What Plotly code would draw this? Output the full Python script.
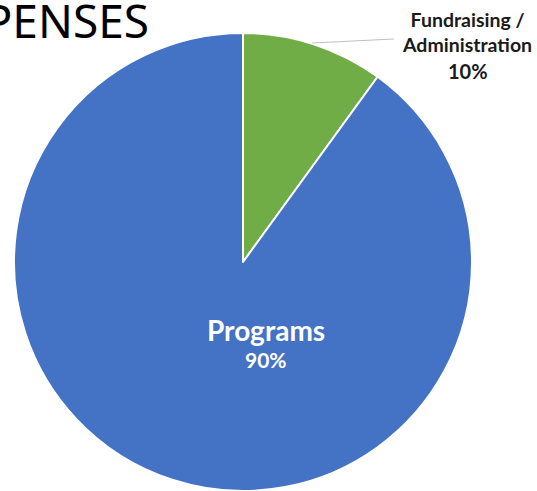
import plotly.graph_objects as go

labels = ["Fundraising /<br>Administration", "Programs"]
values = [10, 90]
colors = ["#70AD47", "#4472C4"]
title_text = "EXPENSES"

W, H = 537, 491

fig = go.Figure(go.Pie(
    labels=labels,
    values=values,
    sort=False,
    direction="clockwise",
    rotation=0,
    textinfo="none",
    hoverinfo="label+percent",
    marker=dict(colors=colors, line=dict(color="white", width=2)),
    domain=dict(x=[14 / W, 472 / W], y=[0, (H - 33) / H]),
    showlegend=False,
))

total = sum(values)
pcts = [round(v / total * 100) for v in values]

def px(x):
    return x / W

def py(y):
    return 1 - y / H

annotations = [
    dict(text=title_text, x=px(151), y=py(20), xref="paper", yref="paper",
         xanchor="right", yanchor="middle", showarrow=False,
         font=dict(family="Noto Sans", size=46, color="black")),
    dict(text="<b>" + labels[0] + "</b>", x=px(467), y=py(32), xref="paper", yref="paper",
         xanchor="center", yanchor="middle", showarrow=False, align="center",
         font=dict(family="Lato", size=19.5, color="#1a1a1a")),
    dict(text="<b>%d%%</b>" % pcts[0], x=px(468), y=py(71), xref="paper", yref="paper",
         xanchor="center", yanchor="middle", showarrow=False,
         font=dict(family="Lato", size=20, color="#1a1a1a")),
    dict(text="<b>" + labels[1] + "</b>", x=px(266), y=py(330), xref="paper", yref="paper",
         xanchor="center", yanchor="middle", showarrow=False,
         font=dict(family="Lato", size=28, color="white")),
    dict(text="<b>%d%%</b>" % pcts[1], x=px(266), y=py(359), xref="paper", yref="paper",
         xanchor="center", yanchor="middle", showarrow=False,
         font=dict(family="Lato", size=21, color="white")),
]

fig.update_layout(
    width=W, height=H,
    margin=dict(l=0, r=0, t=0, b=0),
    paper_bgcolor="white",
    plot_bgcolor="white",
    annotations=annotations,
    shapes=[dict(type="line", xref="paper", yref="paper",
                 x0=px(312), y0=py(43), x1=px(394), y1=py(39),
                 line=dict(color="#BFBFBF", width=1))],
)

fig.write_html("out.html",
               config={"displayModeBar": False},
               post_script="document.body.style.margin='0';document.body.style.overflow='hidden';")
